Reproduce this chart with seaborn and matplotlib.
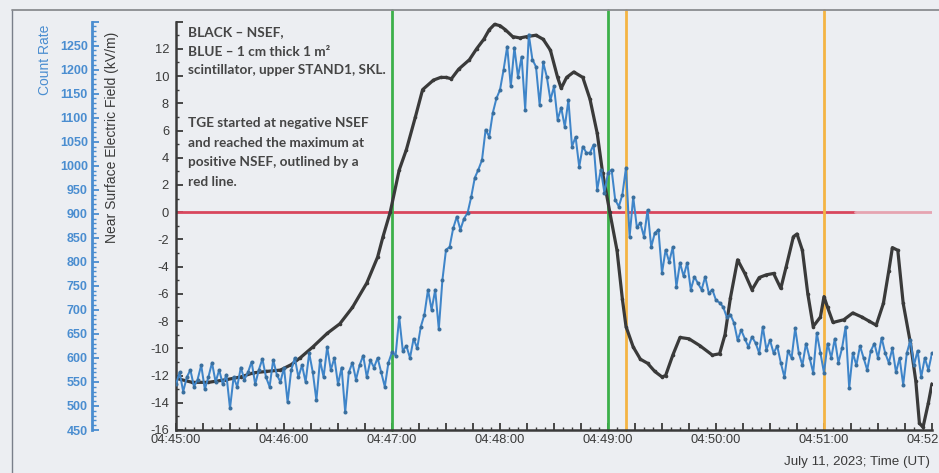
import matplotlib
matplotlib.use("Agg")
import matplotlib.pyplot as plt
from matplotlib.lines import Line2D
from matplotlib.ticker import MultipleLocator, FixedLocator, FixedFormatter
import seaborn as sns

# Near-surface electric field (kV/m), seconds after 04:45:00 UT
nsef_sec = [0, 9, 18, 28, 36, 43, 50, 58, 64, 69, 76, 84, 91, 98, 106, 112, 115,
            119, 124, 128, 133, 137, 143, 147, 150, 153, 157, 163, 167, 171, 174,
            177, 180, 183, 187, 191, 195, 200, 204, 208, 212, 214, 217, 221, 226,
            230, 234, 237, 241, 245, 248, 250, 254, 258, 262, 266, 270, 272, 276,
            280, 285, 291, 298, 302, 305, 308, 312, 316, 320, 324, 328, 332, 336,
            339, 343, 345, 348, 351, 354, 358, 360, 362, 365, 371, 376, 381, 385,
            389, 393, 396, 398, 401, 404, 408, 411, 413, 415, 418, 420]
nsef_kvm = [-12.2, -12.5, -12.5, -12.3, -12.1, -11.8, -11.7, -11.6, -11.2, -10.7,
            -9.9, -8.9, -8.2, -7.0, -5.2, -3.3, -1.8, 0.0, 3.1, 4.6, 7.0, 9.0, 9.7,
            9.9, 9.9, 9.8, 10.5, 11.2, 12.0, 12.7, 13.4, 13.8, 13.7, 13.4, 12.9,
            12.8, 12.9, 13.0, 12.7, 11.9, 9.9, 9.1, 9.9, 10.3, 9.9, 8.3, 5.8, 2.9,
            0.0, -2.8, -6.4, -8.4, -9.9, -10.8, -11.1, -11.7, -12.1, -12.0, -10.5,
            -9.2, -9.3, -9.8, -10.5, -10.4, -9.0, -6.3, -3.5, -4.5, -5.7, -4.8,
            -4.6, -4.5, -5.6, -4.0, -1.8, -1.6, -2.8, -6.0, -8.4, -7.7, -6.2, -7.0,
            -8.1, -7.9, -7.4, -7.7, -8.0, -8.3, -6.7, -4.3, -2.6, -2.8, -6.7, -9.6,
            -12.4, -15.5, -15.8, -14.0, -12.6]

# Scintillator count rate, 2-second samples after 04:45:00 UT
count_sec = list(range(0, 421, 2))
count_rate = [545, 570, 530, 560, 575, 540, 555, 585, 535, 560,
              590, 550, 575, 545, 565, 495, 560, 540, 580, 555,
              570, 592, 545, 575, 598, 560, 540, 596, 565, 550,
              580, 508, 575, 600, 560, 585, 550, 610, 570, 512,
              595, 560, 623, 575, 600, 545, 580, 487, 570, 590,
              555, 585, 605, 560, 595, 580, 600, 570, 540, 590,
              612, 605, 685, 615, 625, 600, 640, 620, 665, 690,
              742, 700, 742, 660, 762, 825, 831, 870, 894, 867,
              890, 902, 935, 975, 992, 1012, 1075, 1060, 1110, 1140,
              1158, 1200, 1248, 1165, 1246, 1185, 1227, 1117, 1273, 1221,
              1206, 1127, 1215, 1185, 1137, 1165, 1096, 1121, 1081, 1137,
              1040, 1060, 998, 1040, 1027, 1027, 1044, 950, 992, 944,
              985, 992, 929, 915, 940, 996, 852, 935, 873, 880,
              852, 908, 831, 860, 867, 777, 825, 800, 831, 748,
              798, 770, 798, 742, 769, 755, 742, 769, 735, 742,
              720, 715, 706, 685, 690, 673, 637, 658, 640, 623,
              644, 631, 610, 665, 617, 637, 610, 625, 590, 560,
              615, 600, 662, 610, 585, 630, 600, 569, 652, 610,
              569, 630, 600, 640, 590, 620, 665, 537, 610, 585,
              625, 600, 575, 615, 630, 600, 642, 610, 590, 620,
              570, 600, 544, 610, 637, 585, 615, 560, 600, 575,
              610]

x_tick_sec = [0, 60, 120, 180, 240, 300, 360, 420]
x_tick_labels = ["04:45:00", "04:46:00", "04:47:00", "04:48:00",
                 "04:49:00", "04:50:00", "04:51:00", "04:52:00"]
field_ticks = list(range(-16, 15, 2))
field_labels = [str(v) if v <= 12 else "" for v in field_ticks]
count_ticks = list(range(450, 1301, 50))
count_labels = [str(v) if v <= 1250 else "" for v in count_ticks]
green_marks_sec = [120, 240]
orange_marks_sec = [250, 360]
zero_line_end_sec = 377

BG = "#eceef2"
DARK = "#3a3a3a"
BLUE = "#3f85c9"
BLUE_TXT = "#4a8dd0"
GREEN = "#3cb04a"
ORANGE = "#f4b444"
RED = "#d8465d"
PINK = "#e6a4b1"

sns.set_theme(style="ticks")
plt.rcParams["font.family"] = ["Liberation Sans", "DejaVu Sans"]
plt.rcParams["axes.unicode_minus"] = False

W, H = 939, 473
fig = plt.figure(figsize=(W / 100, H / 100), dpi=100, facecolor=BG)
L, R, T, B = 176, 932, 21.6, 430
ax = fig.add_axes([L / W, 1 - B / H, (R - L) / W, (B - T) / H])
ax.set_facecolor("none")

# zero-field reference and time markers
ax.plot([0, zero_line_end_sec], [0, 0], color=RED, lw=2.0, zorder=1)
ax.plot([zero_line_end_sec, 420], [0, 0], color=PINK, lw=2.0, zorder=1)
ext = 1 + (T - 10) / (B - T)
for s in green_marks_sec:
    ax.axvline(s, ymin=0, ymax=ext, clip_on=False, color=GREEN, lw=2.0, zorder=1)
for s in orange_marks_sec:
    ax.axvline(s, ymin=0, ymax=ext, clip_on=False, color=ORANGE, lw=2.0, zorder=1)

sns.lineplot(x=nsef_sec, y=nsef_kvm, ax=ax, color=DARK, lw=2.3, marker="o",
             markersize=2.6, markeredgewidth=0, zorder=3)
ax.set_xlim(0, 420)
ax.set_ylim(-16, 14)
ax.set_xlabel("")
ax.set_ylabel("")

# count-rate axis on a second left spine
ax2 = ax.twinx()
ax2.set_facecolor("none")
sns.lineplot(x=count_sec, y=count_rate, ax=ax2, color=BLUE, lw=1.45, marker="o",
             markersize=2.9, markeredgewidth=0, markerfacecolor="#3a6f9e", zorder=4)
ax2.set_ylim(450, 1300)
ax2.set_xlim(0, 420)
ax2.set_xlabel("")
ax2.set_ylabel("")
ax2.yaxis.set_ticks_position("left")
ax2.yaxis.set_label_position("left")
for side in ["right", "top", "bottom"]:
    ax2.spines[side].set_visible(False)
ax2.spines["left"].set_visible(True)
ax2.spines["left"].set_position(("axes", (92 - L) / (R - L)))
ax2.spines["left"].set_color(BLUE_TXT)
ax2.spines["left"].set_linewidth(2.0)
ax2.yaxis.set_major_locator(FixedLocator(count_ticks))
ax2.yaxis.set_major_formatter(FixedFormatter(count_labels))
ax2.yaxis.set_minor_locator(MultipleLocator(10))
ax2.tick_params(axis="y", which="major", direction="in", length=5, width=1.3,
                color=BLUE_TXT, labelcolor=BLUE_TXT, labelsize=9, pad=3)
ax2.tick_params(axis="y", which="minor", direction="in", length=3, width=1.0,
                color=BLUE_TXT)
for lab in ax2.get_yticklabels():
    lab.set_fontweight("bold")

# field axis and time axis
for side in ["right", "top"]:
    ax.spines[side].set_visible(False)
for side in ["left", "bottom"]:
    ax.spines[side].set_color(DARK)
    ax.spines[side].set_linewidth(1.8)
ax.yaxis.set_major_locator(FixedLocator(field_ticks))
ax.yaxis.set_major_formatter(FixedFormatter(field_labels))
ax.yaxis.set_minor_locator(MultipleLocator(1))
major_pos = list(range(0, 421, 15))
major_lab = [x_tick_labels[x_tick_sec.index(p)] if p in x_tick_sec else ""
             for p in major_pos]
ax.xaxis.set_major_locator(FixedLocator(major_pos))
ax.xaxis.set_major_formatter(FixedFormatter(major_lab))
ax.xaxis.set_minor_locator(MultipleLocator(5))
ax.tick_params(which="major", direction="in", length=5, width=1.3, color=DARK,
               labelcolor=DARK, labelsize=9.3)
ax.tick_params(which="minor", direction="in", length=2.5, width=1.0, color=DARK)
ax.tick_params(axis="y", pad=5)
ax.tick_params(axis="x", pad=3)

fig.text(45 / W, 1 - 60 / H, "Count Rate", rotation=90, ha="center", va="center",
         color=BLUE_TXT, fontsize=10)
fig.text(112 / W, 1 - 137 / H, "Near Surface Electric Field (kV/m)", rotation=90,
         ha="center", va="center", color=DARK, fontsize=10)
fig.text(930 / W, 1 - 462 / H, "July 11, 2023; Time (UT)", ha="right", va="center",
         color=DARK, fontsize=9.6)

note_font = dict(family=["Lato", "DejaVu Sans"], fontweight="bold", color="#454545",
                 fontsize=9.8, ha="left", va="center")
for txt, yy in [("BLACK – NSEF,", 32), ("BLUE – 1 cm thick 1 m²", 52),
                ("scintillator, upper STAND1, SKL.", 70),
                ("TGE started at negative NSEF", 123),
                ("and reached the maximum at", 143),
                ("positive NSEF, outlined by a", 162), ("red line.", 182)]:
    fig.text(188 / W, 1 - yy / H, txt, **note_font)

# outer frame
fig.add_artist(Line2D([12 / W, 12 / W], [0, 1 - 10 / H], transform=fig.transFigure,
                      color="#7a7f8a", lw=1.0))
fig.add_artist(Line2D([12 / W, 1], [1 - 10 / H, 1 - 10 / H], transform=fig.transFigure,
                      color="#8a8c90", lw=1.3))

fig.savefig("out.png", dpi=100, facecolor=BG)
